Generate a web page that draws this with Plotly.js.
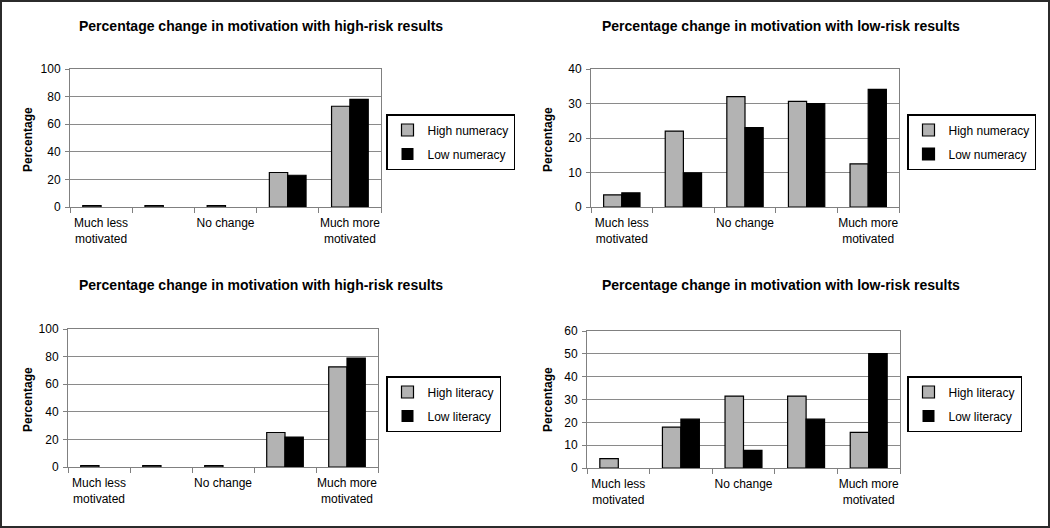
<!DOCTYPE html>
<html>
<head>
<meta charset="utf-8">
<script src="https://cdn.plot.ly/plotly-3.0.1.min.js"></script>
<style>
  html, body { margin: 0; padding: 0; background: #fff; }
  #frame { width: 1050px; height: 528px; box-sizing: border-box; border: 2px solid #2b2b2b; background: #fff; }
  #chart { width: 1046px; height: 524px; }
</style>
</head>
<body>
<div id="frame"><div id="chart"></div></div>
<script>
// Categories (unique keys; whitespace keys render as blank tick labels)
const categories = ["Much less<br>motivated", " ", "No change", "  ", "Much more<br>motivated"];

// Panel titles
const titleHighRisk = "Percentage change in motivation with high-risk results";
const titleLowRisk = "Percentage change in motivation with low-risk results";
const yTitle = "Percentage";

// Series names
const numeracyNames = ["High numeracy", "Low numeracy"];
const literacyNames = ["High literacy", "Low literacy"];

// Values
const highRiskHighNumeracy = [1, 1, 1, 25, 73];
const highRiskLowNumeracy  = [0, 0, 0, 23, 78];
const lowRiskHighNumeracy  = [3.5, 22, 32, 30.6, 12.5];
const lowRiskLowNumeracy   = [4.1, 9.9, 23, 30, 34.1];
const highRiskHighLiteracy = [1, 1, 1, 25, 72.5];
const highRiskLowLiteracy  = [0, 0, 0, 21.7, 79];
const lowRiskHighLiteracy  = [4.1, 17.9, 31.5, 31.5, 15.6];
const lowRiskLowLiteracy   = [0, 21.4, 7.7, 21.4, 50.1];

// Axis ranges / tick steps
const yRanges = [[0, 100], [0, 40], [0, 100], [0, 60]];
const yDticks = [20, 10, 20, 10];

const FONT = "Arial, 'Liberation Sans', sans-serif";
const GRAY = "#b3b3b3";
const BLACK = "#000000";
const AXIS = "#808080";

function bar(name, y, color, xa, ya, legend, group) {
  return {
    type: "bar", name: name, x: categories, y: y,
    xaxis: xa, yaxis: ya, legend: legend, legendgroup: group,
    // zero-valued bars draw no outline (as in the original)
    marker: { color: color, line: { color: "#000", width: y.map(v => v === 0 ? 0 : 1.2) } },
    hoverinfo: "skip"
  };
}

const data = [
  bar(numeracyNames[0], highRiskHighNumeracy, GRAY, "x", "y", "legend", "a1"),
  bar(numeracyNames[1], highRiskLowNumeracy, BLACK, "x", "y", "legend", "b1"),
  bar(numeracyNames[0], lowRiskHighNumeracy, GRAY, "x2", "y2", "legend2", "a2"),
  bar(numeracyNames[1], lowRiskLowNumeracy, BLACK, "x2", "y2", "legend2", "b2"),
  bar(literacyNames[0], highRiskHighLiteracy, GRAY, "x3", "y3", "legend3", "a3"),
  bar(literacyNames[1], highRiskLowLiteracy, BLACK, "x3", "y3", "legend3", "b3"),
  bar(literacyNames[0], lowRiskHighLiteracy, GRAY, "x4", "y4", "legend4", "a4"),
  bar(literacyNames[1], lowRiskLowLiteracy, BLACK, "x4", "y4", "legend4", "b4")
];

function xax(domain, anchor) {
  return {
    domain: domain, anchor: anchor, type: "category",
    tickson: "boundaries", ticks: "outside", ticklen: 5, tickcolor: AXIS, tickangle: 0,
    ticklabelstandoff: 5,
    showline: true, linecolor: AXIS, linewidth: 1, mirror: true,
    showgrid: false, zeroline: false, fixedrange: true,
    tickfont: { family: FONT, size: 12, color: "#000" }
  };
}
function yax(domain, anchor, range, dtick) {
  return {
    domain: domain, anchor: anchor, range: range, dtick: dtick, tick0: 0,
    ticks: "outside", ticklen: 4, tickcolor: AXIS, ticklabelstandoff: 2,
    showline: true, linecolor: AXIS, linewidth: 1, mirror: true,
    showgrid: true, gridcolor: "#8a8a8a", gridwidth: 1, zeroline: false, fixedrange: true,
    tickfont: { family: FONT, size: 12, color: "#000" }
  };
}
function leg(x, y) {
  return {
    x: x, y: y, xanchor: "left", yanchor: "top",
    bgcolor: "#fff", bordercolor: "#000", borderwidth: 1.5,
    font: { family: FONT, size: 12, color: "#000" },
    tracegroupgap: 5, itemwidth: 30, traceorder: "grouped"
  };
}

const W = 1046, H = 524;
const px = v => (v - 2) / W;
const py = v => 1 - (v - 2) / H;

function titleAnn(text, cx, cy) {
  return { text: "<b>" + text + "</b>", x: px(cx), y: py(cy), xref: "paper", yref: "paper",
    showarrow: false, xanchor: "center", yanchor: "middle",
    font: { family: FONT, size: 14, color: "#000" } };
}
function yTitleAnn(cx, cy) {
  return { text: "<b>" + yTitle + "</b>", x: px(cx), y: py(cy), xref: "paper", yref: "paper",
    showarrow: false, xanchor: "center", yanchor: "middle", textangle: -90,
    font: { family: FONT, size: 12, color: "#000" } };
}

const layout = {
  width: W, height: H,
  margin: { l: 0, r: 0, t: 0, b: 0 },
  paper_bgcolor: "#fff", plot_bgcolor: "#fff",
  barmode: "group", bargap: 0.41, bargroupgap: 0,
  showlegend: true,
  xaxis: xax([px(70), px(381)], "y"),
  yaxis: yax([py(207), py(69)], "x", yRanges[0], yDticks[0]),
  xaxis2: xax([px(591), px(899)], "y2"),
  yaxis2: yax([py(207), py(69)], "x2", yRanges[1], yDticks[1]),
  xaxis3: xax([px(68), px(378)], "y3"),
  yaxis3: yax([py(467), py(329)], "x3", yRanges[2], yDticks[2]),
  xaxis4: xax([px(587), px(900)], "y4"),
  yaxis4: yax([py(468), py(331)], "x4", yRanges[3], yDticks[3]),
  legend: leg(px(386), py(114)),
  legend2: leg(px(907), py(114)),
  legend3: leg(px(386), py(376)),
  legend4: leg(px(907), py(376)),
  annotations: [
    titleAnn(titleHighRisk, 261, 26),
    titleAnn(titleLowRisk, 781, 26),
    titleAnn(titleHighRisk, 261, 285),
    titleAnn(titleLowRisk, 781, 285),
    yTitleAnn(28, 140),
    yTitleAnn(548, 140),
    yTitleAnn(28, 400),
    yTitleAnn(548, 400)
  ]
};

Plotly.newPlot("chart", data, layout, { displayModeBar: false, staticPlot: true });
</script>
</body>
</html>
